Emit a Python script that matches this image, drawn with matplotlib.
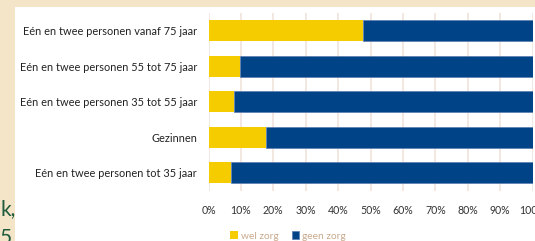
import matplotlib
matplotlib.use("Agg")
import matplotlib.pyplot as plt
from matplotlib.patches import Rectangle

# data (top to bottom)
categories = ["Eén en twee personen vanaf 75 jaar",
              "Eén en twee personen 55 tot 75 jaar",
              "Eén en twee personen 35 tot 55 jaar",
              "Gezinnen",
              "Eén en twee personen tot 35 jaar"]
wel_zorg = [0.478, 0.098, 0.078, 0.176, 0.068]
geen_zorg = [1 - v for v in wel_zorg]
tick_vals = [i / 10 for i in range(11)]
tick_labels = ["%d%%" % (i * 10) for i in range(11)]

YELLOW = "#f5cc00"
BLUE = "#004387"
BEIGE = "#f4e5c8"
GRID = "#f1e3dc"

plt.rcParams['font.family'] = ['Lato', 'DejaVu Sans']

fig = plt.figure(figsize=(5.35, 2.41), dpi=100, facecolor=BEIGE)
# white panel behind the chart
fig.patches.append(Rectangle((15 / 535, 0), 1, 234 / 241, transform=fig.transFigure,
                             facecolor="white", edgecolor="none", zorder=-10))

ax = fig.add_axes([208.5 / 535, 0.2083, 324.2 / 535, 0.739])
ax.set_facecolor("none")
y = list(range(len(categories)))
ax.barh(y, wel_zorg, height=0.59, color=YELLOW, label="wel zorg", zorder=2)
ax.barh(y, geen_zorg, left=wel_zorg, height=0.59, color=BLUE,
        edgecolor="#5b7db0", linewidth=0.5, label="geen zorg", zorder=2)

ax.set_xlim(0, 1)
ax.set_ylim(len(categories) - 0.5, -0.5)
ax.set_yticks(y)
ax.set_yticklabels(categories, fontsize=7.9, color="#222222")
ax.set_xticks(tick_vals)
ax.set_xticklabels(tick_labels, fontsize=7.6, color="#333333")
ax.tick_params(length=0)
ax.tick_params(axis="y", pad=8.3)
ax.tick_params(axis="x", pad=10)
for s in ax.spines.values():
    s.set_visible(False)
ax.grid(axis="x", color=GRID, linewidth=1.2, zorder=0)
ax.set_axisbelow(True)

leg = ax.legend(loc="upper center", bbox_to_anchor=(0.245, -0.205), ncol=2, frameon=False,
                fontsize=7.3, handlelength=0.75, handleheight=0.75, handletextpad=0.3,
                columnspacing=1.3, borderaxespad=0)
for t in leg.get_texts():
    t.set_color("#c9a98c")

# cut-off text from the surrounding page on the left
fig.text(0, 1 - 215 / 241, "k,", fontsize=15, color="#1f5b3c", ha="left", va="baseline")
fig.text(0, 1 - 244 / 241, "5", fontsize=15, color="#1f5b3c", ha="left", va="baseline")

fig.savefig("out.png", dpi=100, facecolor=BEIGE)
